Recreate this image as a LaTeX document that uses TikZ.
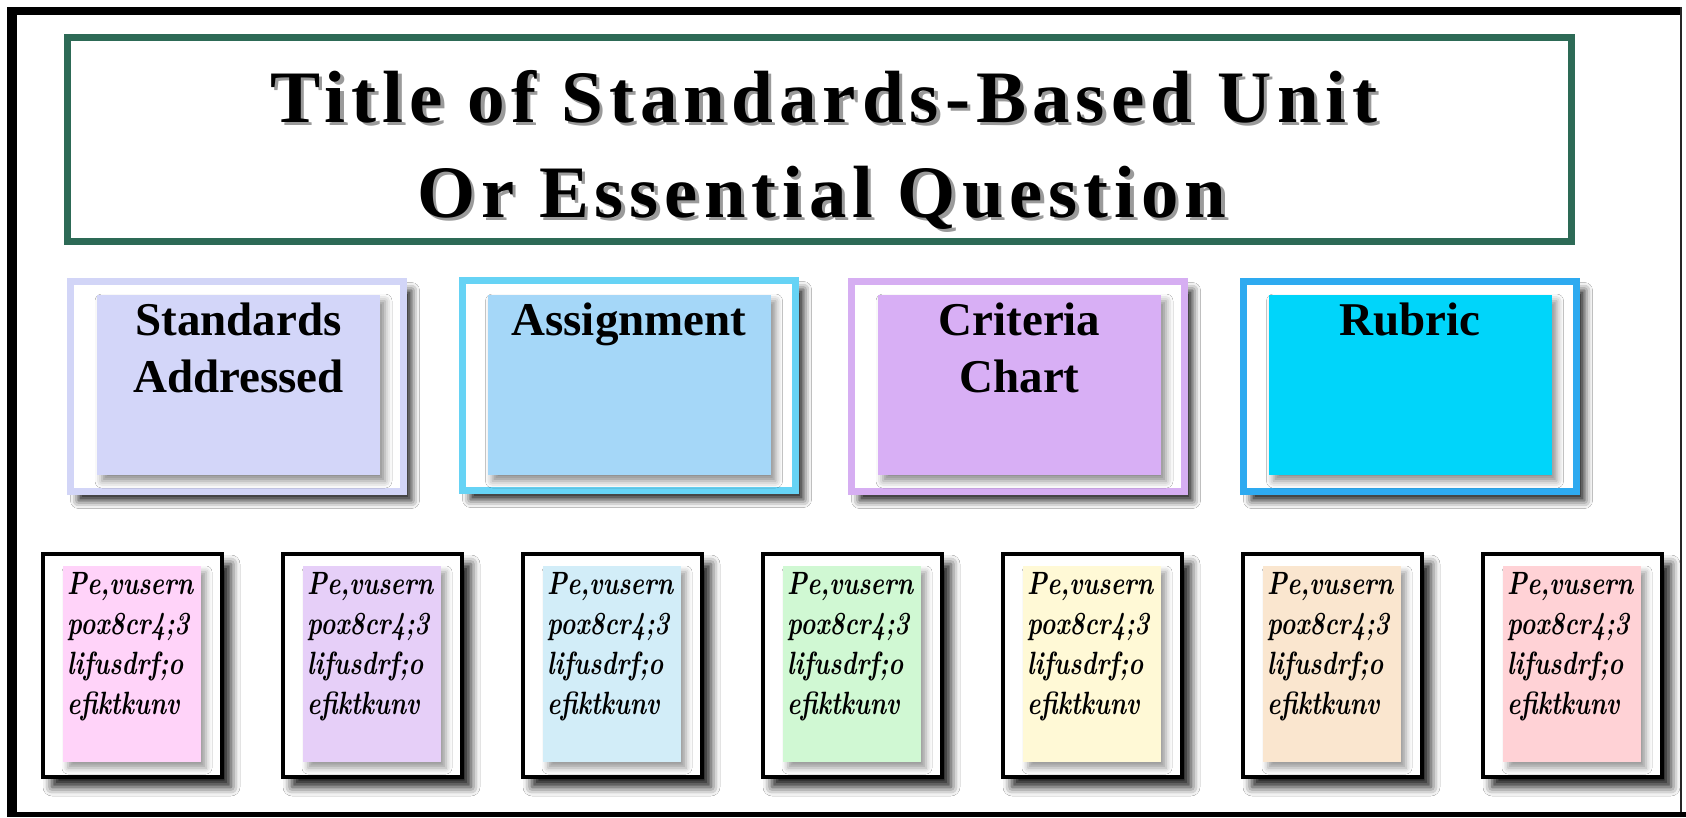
\documentclass[tikz,border=0pt]{standalone}
\usepackage{fontspec}
\usepackage{graphicx}
\usetikzlibrary{shadows.blur}

\newfontfamily\titlefont[LetterSpace=8.0]{Liberation Serif}
\newfontfamily\labelfont{Liberation Serif}

\definecolor{titlegreen}{HTML}{2D6A56}
\definecolor{titleshade}{HTML}{9A9A9A}
\definecolor{frameA}{HTML}{D2D5F7}
\definecolor{panelA}{HTML}{D3D6F9}
\definecolor{frameB}{HTML}{66D3F5}
\definecolor{panelB}{HTML}{A5D7F8}
\definecolor{frameC}{HTML}{D6AEF2}
\definecolor{panelC}{HTML}{D8AFF5}
\definecolor{frameD}{HTML}{2EAAF0}
\definecolor{panelD}{HTML}{00D5FA}
\definecolor{cardA}{HTML}{FFD3F9}
\definecolor{cardB}{HTML}{E6CFF8}
\definecolor{cardC}{HTML}{D2EDF8}
\definecolor{cardD}{HTML}{D0F8D3}
\definecolor{cardE}{HTML}{FFF9D6}
\definecolor{cardF}{HTML}{FAE6CF}
\definecolor{cardG}{HTML}{FFD2D6}

% set a line of text stretched horizontally to a given width (in pt)
\newsavebox\fitbox
\newcommand\fitto[2]{%
  \sbox\fitbox{#2}%
  \pgfmathsetmacro\fitratio{#1/\the\wd\fitbox}%
  \scalebox{\fitratio}[1]{\usebox\fitbox}}
% the same line with a grey drop shadow behind it
\newcommand\shadedline[2]{%
  \rlap{\hspace{3.5pt}\raisebox{-3.5pt}{\color{titleshade}\fitto{#1}{#2}}}%
  \fitto{#1}{#2}}

\begin{document}
\begin{tikzpicture}[x=1pt,y=-1pt,
  framebox/.style={line width=7pt, fill=white, inner sep=0pt, outer sep=0pt,
    minimum width=333pt, minimum height=210pt,
    blur shadow={shadow xshift=8pt, shadow yshift=-9pt,
      shadow blur radius=8pt, shadow opacity=90}},
  panel/.style={inner sep=0pt, outer sep=0pt,
    minimum width=283pt, minimum height=180pt,
    blur shadow={shadow xshift=5pt, shadow yshift=-6pt,
      shadow blur radius=7pt, shadow opacity=45}},
  boxlabel/.style={anchor=base, inner sep=0pt,
    font=\labelfont\bfseries\fontsize{47}{56}\selectfont},
  card/.style={draw=black, line width=4pt, fill=white, inner sep=0pt, outer sep=0pt,
    minimum width=179pt, minimum height=223pt,
    blur shadow={shadow xshift=9pt, shadow yshift=-10pt,
      shadow blur radius=9pt, shadow opacity=90}},
  cardpanel/.style={inner sep=0pt, outer sep=0pt,
    minimum width=138pt, minimum height=196pt,
    blur shadow={shadow xshift=5pt, shadow yshift=-6pt,
      shadow blur radius=6pt, shadow opacity=40}},
  cardtext/.style={anchor=base west, inner sep=0pt,
    font=\bfseries\itshape\fontsize{28}{36}\selectfont},
  titletext/.style={anchor=base west, inner sep=0pt,
    font=\titlefont\bfseries\fontsize{74}{80}\selectfont},
]
\useasboundingbox (0,0) rectangle (1686,817);
\fill[white] (0,0) rectangle (1686,817);

% outer frame
\fill[black] (7,7) rectangle (17,817);
\fill[black] (7,7) rectangle (1682,15);
\fill[black] (7,812) rectangle (1686,817);
\fill[black!85] (1680,7) rectangle (1682,812);

% title
\node[draw=titlegreen, line width=7pt, inner sep=0pt, outer sep=0pt,
      minimum width=1504pt, minimum height=204pt] (titlebox) at (819.5,139.5) {};
\node[titletext] (title1) at (270,122)
  {\shadedline{1107}{Title of Standards-Based Unit}};
\node[titletext] (title2) at (417,217)
  {\shadedline{809}{Or Essential Question}};

% four category boxes
\node[framebox, draw=frameA] (frame1) at (237,386.5) {};
\node[panel, fill=panelA] (panel1) at (238.5,385) {};
\node[boxlabel] (label1a) at (238.5,335) {Standards};
\node[boxlabel] (label1b) at (238.5,392) {Addressed};

\node[framebox, draw=frameB] (frame2) at (629,385.5) {};
\node[panel, fill=panelB] (panel2) at (629,385) {};
\node[boxlabel] (label2a) at (629,335) {Assignment};

\node[framebox, draw=frameC] (frame3) at (1018,386.5) {};
\node[panel, fill=panelC] (panel3) at (1019.5,385) {};
\node[boxlabel] (label3a) at (1019.5,335) {Criteria};
\node[boxlabel] (label3b) at (1019.5,392) {Chart};

\node[framebox, draw=frameD] (frame4) at (1410,386.5) {};
\node[panel, fill=panelD] (panel4) at (1410,385) {};
\node[boxlabel] (label4a) at (1410,335) {Rubric};

% row of note cards
\foreach \i/\col in {1/cardA,2/cardB,3/cardC,4/cardD,5/cardE,6/cardF,7/cardG} {
  \pgfmathsetmacro\cx{132.5+240*(\i-1)}
  \node[card] (card\i) at (\cx,665.5) {};
  \node[cardpanel, fill=\col] (cardpanel\i) at (\cx-0.5,664) {};
  \foreach \txt [count=\k] in {{Pe,vusern},{pox8cr4;3},{lifusdrf;o},{efiktkunv}} {
    \node[cardtext] (cardline\i-\k) at (\cx-65.5,554+40*\k)
      {\scalebox{0.9}[1.15]{\txt}};
  }
}
\end{tikzpicture}
\end{document}
